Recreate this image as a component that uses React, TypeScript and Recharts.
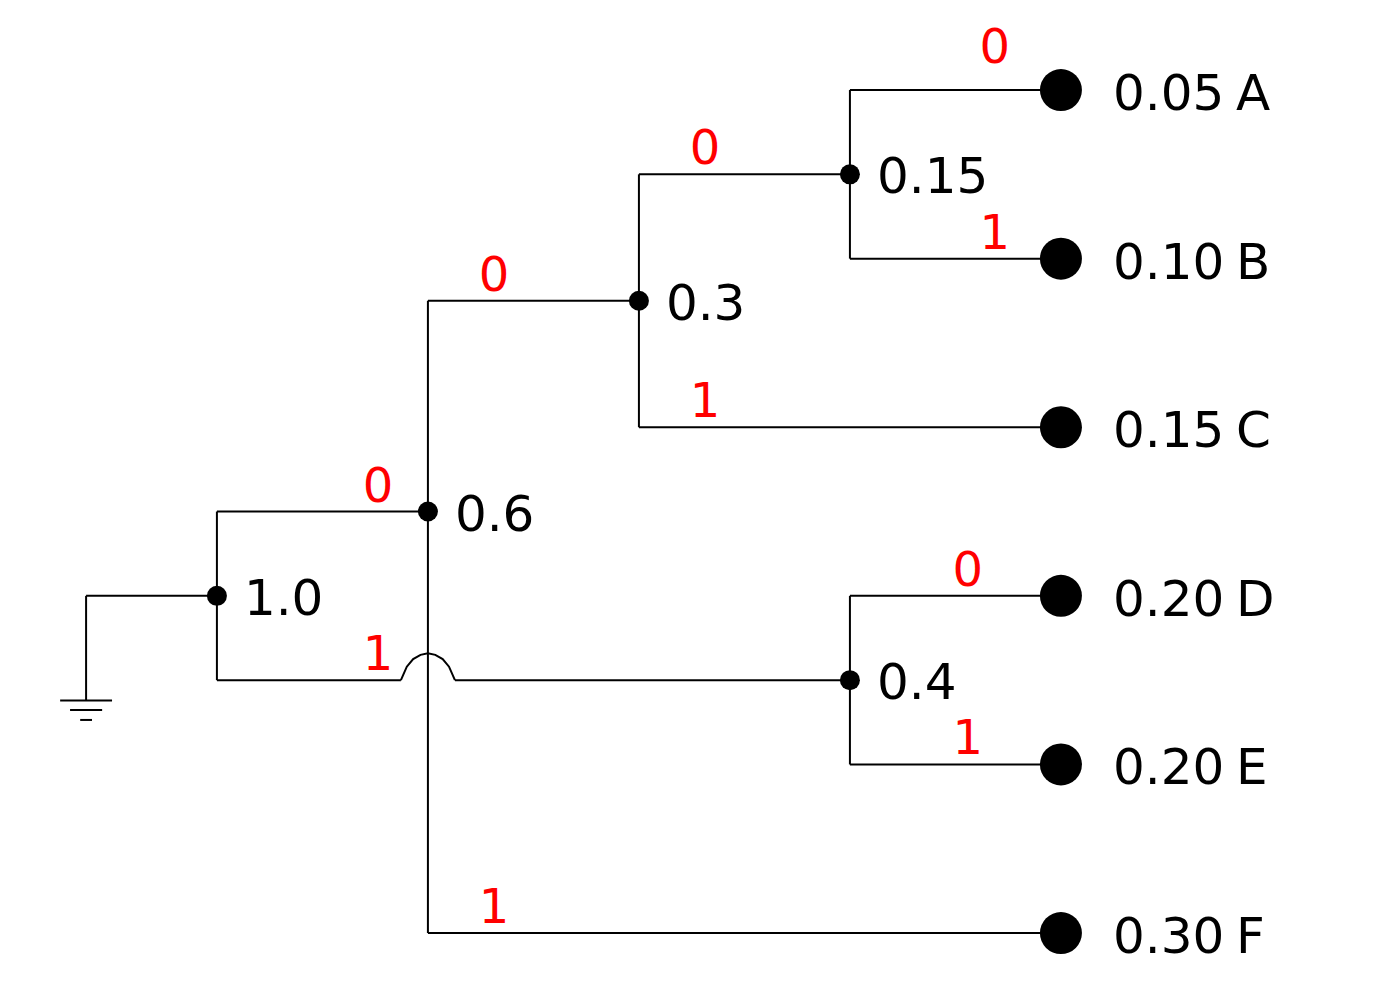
import { ComposedChart, Scatter, XAxis, YAxis } from 'recharts'

// x: tree depth (0..5), y: leaf row (A=0 .. F=5)
const leafNames = ['A', 'B', 'C', 'D', 'E', 'F']
const leafProbs = ['0.05', '0.10', '0.15', '0.20', '0.20', '0.30']
const leafRows = [0, 1, 2, 3, 4, 5]

const innerNodes = [
  { x: 1, y: 3, label: '1.0' },
  { x: 2, y: 2.5, label: '0.6' },
  { x: 3, y: 1.25, label: '0.3' },
  { x: 4, y: 0.5, label: '0.15' },
  { x: 4, y: 3.5, label: '0.4' },
]

const segments: [number, number, number, number][] = [
  [0.38, 3, 1, 3],
  [0.38, 3, 0.38, 3.62],
  [0.257, 3.62, 0.503, 3.62],
  [0.304, 3.677, 0.456, 3.677],
  [0.352, 3.736, 0.408, 3.736],
  [1, 2.5, 1, 3.5],
  [1, 2.5, 2, 2.5],
  [1, 3.5, 1.872, 3.5],
  [2.128, 3.5, 4, 3.5],
  [2, 1.25, 2, 5],
  [2, 1.25, 3, 1.25],
  [2, 5, 5, 5],
  [3, 0.5, 3, 2],
  [3, 0.5, 4, 0.5],
  [3, 2, 5, 2],
  [4, 0, 4, 1],
  [4, 0, 5, 0],
  [4, 1, 5, 1],
  [4, 3, 4, 4],
  [4, 3, 5, 3],
  [4, 4, 5, 4],
]

const hop = [
  { x: 1.872, y: 3.5 },
  { x: 1.9, y: 3.42 },
  { x: 1.93, y: 3.375 },
  { x: 1.965, y: 3.35 },
  { x: 2, y: 3.34 },
  { x: 2.035, y: 3.35 },
  { x: 2.07, y: 3.375 },
  { x: 2.1, y: 3.42 },
  { x: 2.128, y: 3.5 },
]

const bits = [
  { x: 4.687, y: -0.1, t: '0' },
  { x: 4.687, y: 1, t: '1' },
  { x: 3.313, y: 0.5, t: '0' },
  { x: 3.313, y: 2, t: '1' },
  { x: 2.313, y: 1.25, t: '0' },
  { x: 2.313, y: 5, t: '1' },
  { x: 1.763, y: 2.5, t: '0' },
  { x: 1.763, y: 3.5, t: '1' },
  { x: 4.559, y: 3, t: '0' },
  { x: 4.559, y: 4, t: '1' },
]

const font = 'DejaVu Sans, sans-serif'
const none = () => null

export default function App() {
  const leaves = leafRows.map((r, i) => ({ x: 5, y: r, p: leafProbs[i], n: leafNames[i] }))
  return (
    <div style={{ margin: -8 }}>
      <ComposedChart width={1396} height={1000} margin={{ top: 0, right: 0, bottom: 0, left: 0 }}>
        <XAxis type="number" dataKey="x" domain={[-0.028, 6.588]} hide />
        <YAxis type="number" dataKey="y" domain={[-0.534, 5.397]} reversed hide />
        {segments.map((s, i) => (
          <Scatter
            key={i}
            data={[{ x: s[0], y: s[1] }, { x: s[2], y: s[3] }]}
            line={{ stroke: '#000', strokeWidth: 2 }}
            shape={none}
            isAnimationActive={false}
          />
        ))}
        <Scatter data={hop} line={{ stroke: '#000', strokeWidth: 2 }} lineType="joint" shape={none} isAnimationActive={false} />
        <Scatter
          data={innerNodes}
          isAnimationActive={false}
          shape={(p: any) => (
            <g>
              <circle cx={p.cx} cy={p.cy} r={10} fill="#000" />
              <text x={p.cx + 27} y={p.cy + 19} fontSize={50} fontFamily={font} fill="#000">
                {p.payload.label}
              </text>
            </g>
          )}
        />
        <Scatter
          data={leaves}
          isAnimationActive={false}
          shape={(p: any) => (
            <g>
              <circle cx={p.cx} cy={p.cy} r={21} fill="#000" />
              <text x={p.cx + 52} y={p.cy + 20} fontSize={50} fontFamily={font} fill="#000">
                {p.payload.p}
              </text>
              <text x={p.cx + 175} y={p.cy + 20} fontSize={50} fontFamily={font} fill="#000">
                {p.payload.n}
              </text>
            </g>
          )}
        />
        <Scatter
          data={bits}
          isAnimationActive={false}
          shape={(p: any) => (
            <text x={p.cx} y={p.cy - 10} fontSize={48} fontFamily={font} fill="#ff0000" textAnchor="middle">
              {p.payload.t}
            </text>
          )}
        />
      </ComposedChart>
    </div>
  )
}
